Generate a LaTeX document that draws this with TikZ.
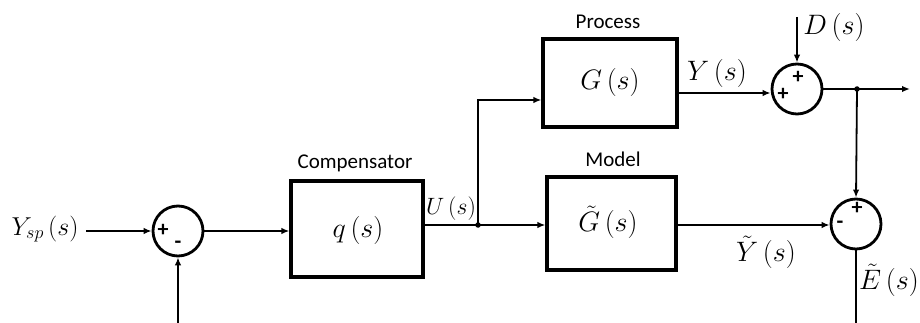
\documentclass[tikz,border=0pt]{standalone}
\usepackage{graphicx}
\usepackage{fontspec}
\setmainfont{Carlito}
\usetikzlibrary{arrows.meta}
\newcommand{\mylbl}[2][1.13]{\scalebox{#1}{$#2$}}
\begin{document}
\begin{tikzpicture}[x=1pt,y=-1pt,
  blockbox/.style={draw, line width=3.2pt, rectangle, inner sep=0pt},
  sumnode/.style={draw, line width=2.8pt, circle, minimum size=50pt, inner sep=0pt},
  sig/.style={line width=1.8pt, -{Latex[length=8pt,width=6.5pt]}},
  wire/.style={line width=1.8pt},
  mathlbl/.style={font=\fontsize{24.88}{28}\selectfont, inner sep=0pt},
  titlelbl/.style={font=\fontsize{21}{24}\selectfont, inner sep=0pt},
  signlbl/.style={font=\fontsize{22}{22}\selectfont\bfseries, inner sep=0pt},
  dotnode/.style={circle, fill, minimum size=5.5pt, inner sep=0pt}
]
\useasboundingbox[fill=white] (0,0) rectangle (920,323);

% blocks
\node[blockbox, minimum width=132pt, minimum height=96pt] (comp) at (357,229) {};
\node[blockbox, minimum width=134pt, minimum height=88pt] (proc) at (610,83) {};
\node[blockbox, minimum width=129pt, minimum height=93pt] (model) at (611.5,223.5) {};

% summing junctions
\node[sumnode] (s1) at (178,231) {};
\node[sumnode] (s2) at (797,89) {};
\node[sumnode] (s3) at (856,224) {};

% block texts
\node[mathlbl] (qtxt) at (358,230) {\mylbl{q\,(s)}};
\node[mathlbl] (gtxt) at (610,82) {\mylbl{G\,(s)}};
\node[mathlbl] (gttxt) at (608,222) {\mylbl{\tilde{G}\,(s)}};
\node[titlelbl] (tcomp) at (355,163) {Compensator};
\node[titlelbl] (tproc) at (608,22) {Process};
\node[titlelbl] (tmodel) at (613,159) {Model};

% signal labels
\node[mathlbl] (ysp) at (45,229) {\mylbl[1.04]{Y_{\scriptscriptstyle sp}\,(s)}};
\node[mathlbl] (ulbl) at (451,209) {\mylbl[0.95]{U\,(s)}};
\node[mathlbl] (ylbl) at (717,73) {\mylbl{Y\,(s)}};
\node[mathlbl] (dlbl) at (834,27) {\mylbl{D\,(s)}};
\node[mathlbl] (ytlbl) at (766,252) {\mylbl{\tilde{Y}\,(s)}};
\node[mathlbl] (etlbl) at (889,280) {\mylbl{\tilde{E}\,(s)}};

% signs
\node[signlbl] (p1) at (163,230) {+};
\node[signlbl] (m1) at (178,245) {-};
\node[signlbl] (p2a) at (798,77) {+};
\node[signlbl] (p2b) at (783,94) {+};
\node[signlbl] (p3) at (857,208) {+};
\node[signlbl] (m3) at (840,225) {-};

% coordinates
\coordinate (yin) at (86,231);
\coordinate (fb) at (178,323);
\coordinate (u) at (478,225);
\coordinate (uup) at (478,100);
\coordinate (yout) at (677,93);
\coordinate (din) at (797,17);
\coordinate (out) at (910,89);
\coordinate (ebot) at (856,323);
\node[dotnode] (udot) at (u) {};
\node[dotnode] (jdot) at (857,89) {};

% connectors
\draw[sig] (yin) -- (s1.west);
\draw[sig] (fb) -- (s1.south);
\draw[sig] (s1.east) -- (comp.west |- s1);
\draw[wire] (comp.east |- u) -- (u);
\draw[sig] (u) -- (model.west |- u);
\draw[sig] (u) -- (uup) -- (proc.west |- uup);
\draw[sig] (yout) -- (s2.west |- yout);
\draw[sig] (din) -- (s2.north);
\draw[sig] (s2.east) -- (out);
\draw[sig] (jdot.center) -- (s3.north);
\draw[sig] (model.east |- u) -- (s3.west |- u);
\draw[wire] (s3.south) -- (ebot);
\end{tikzpicture}
\end{document}
